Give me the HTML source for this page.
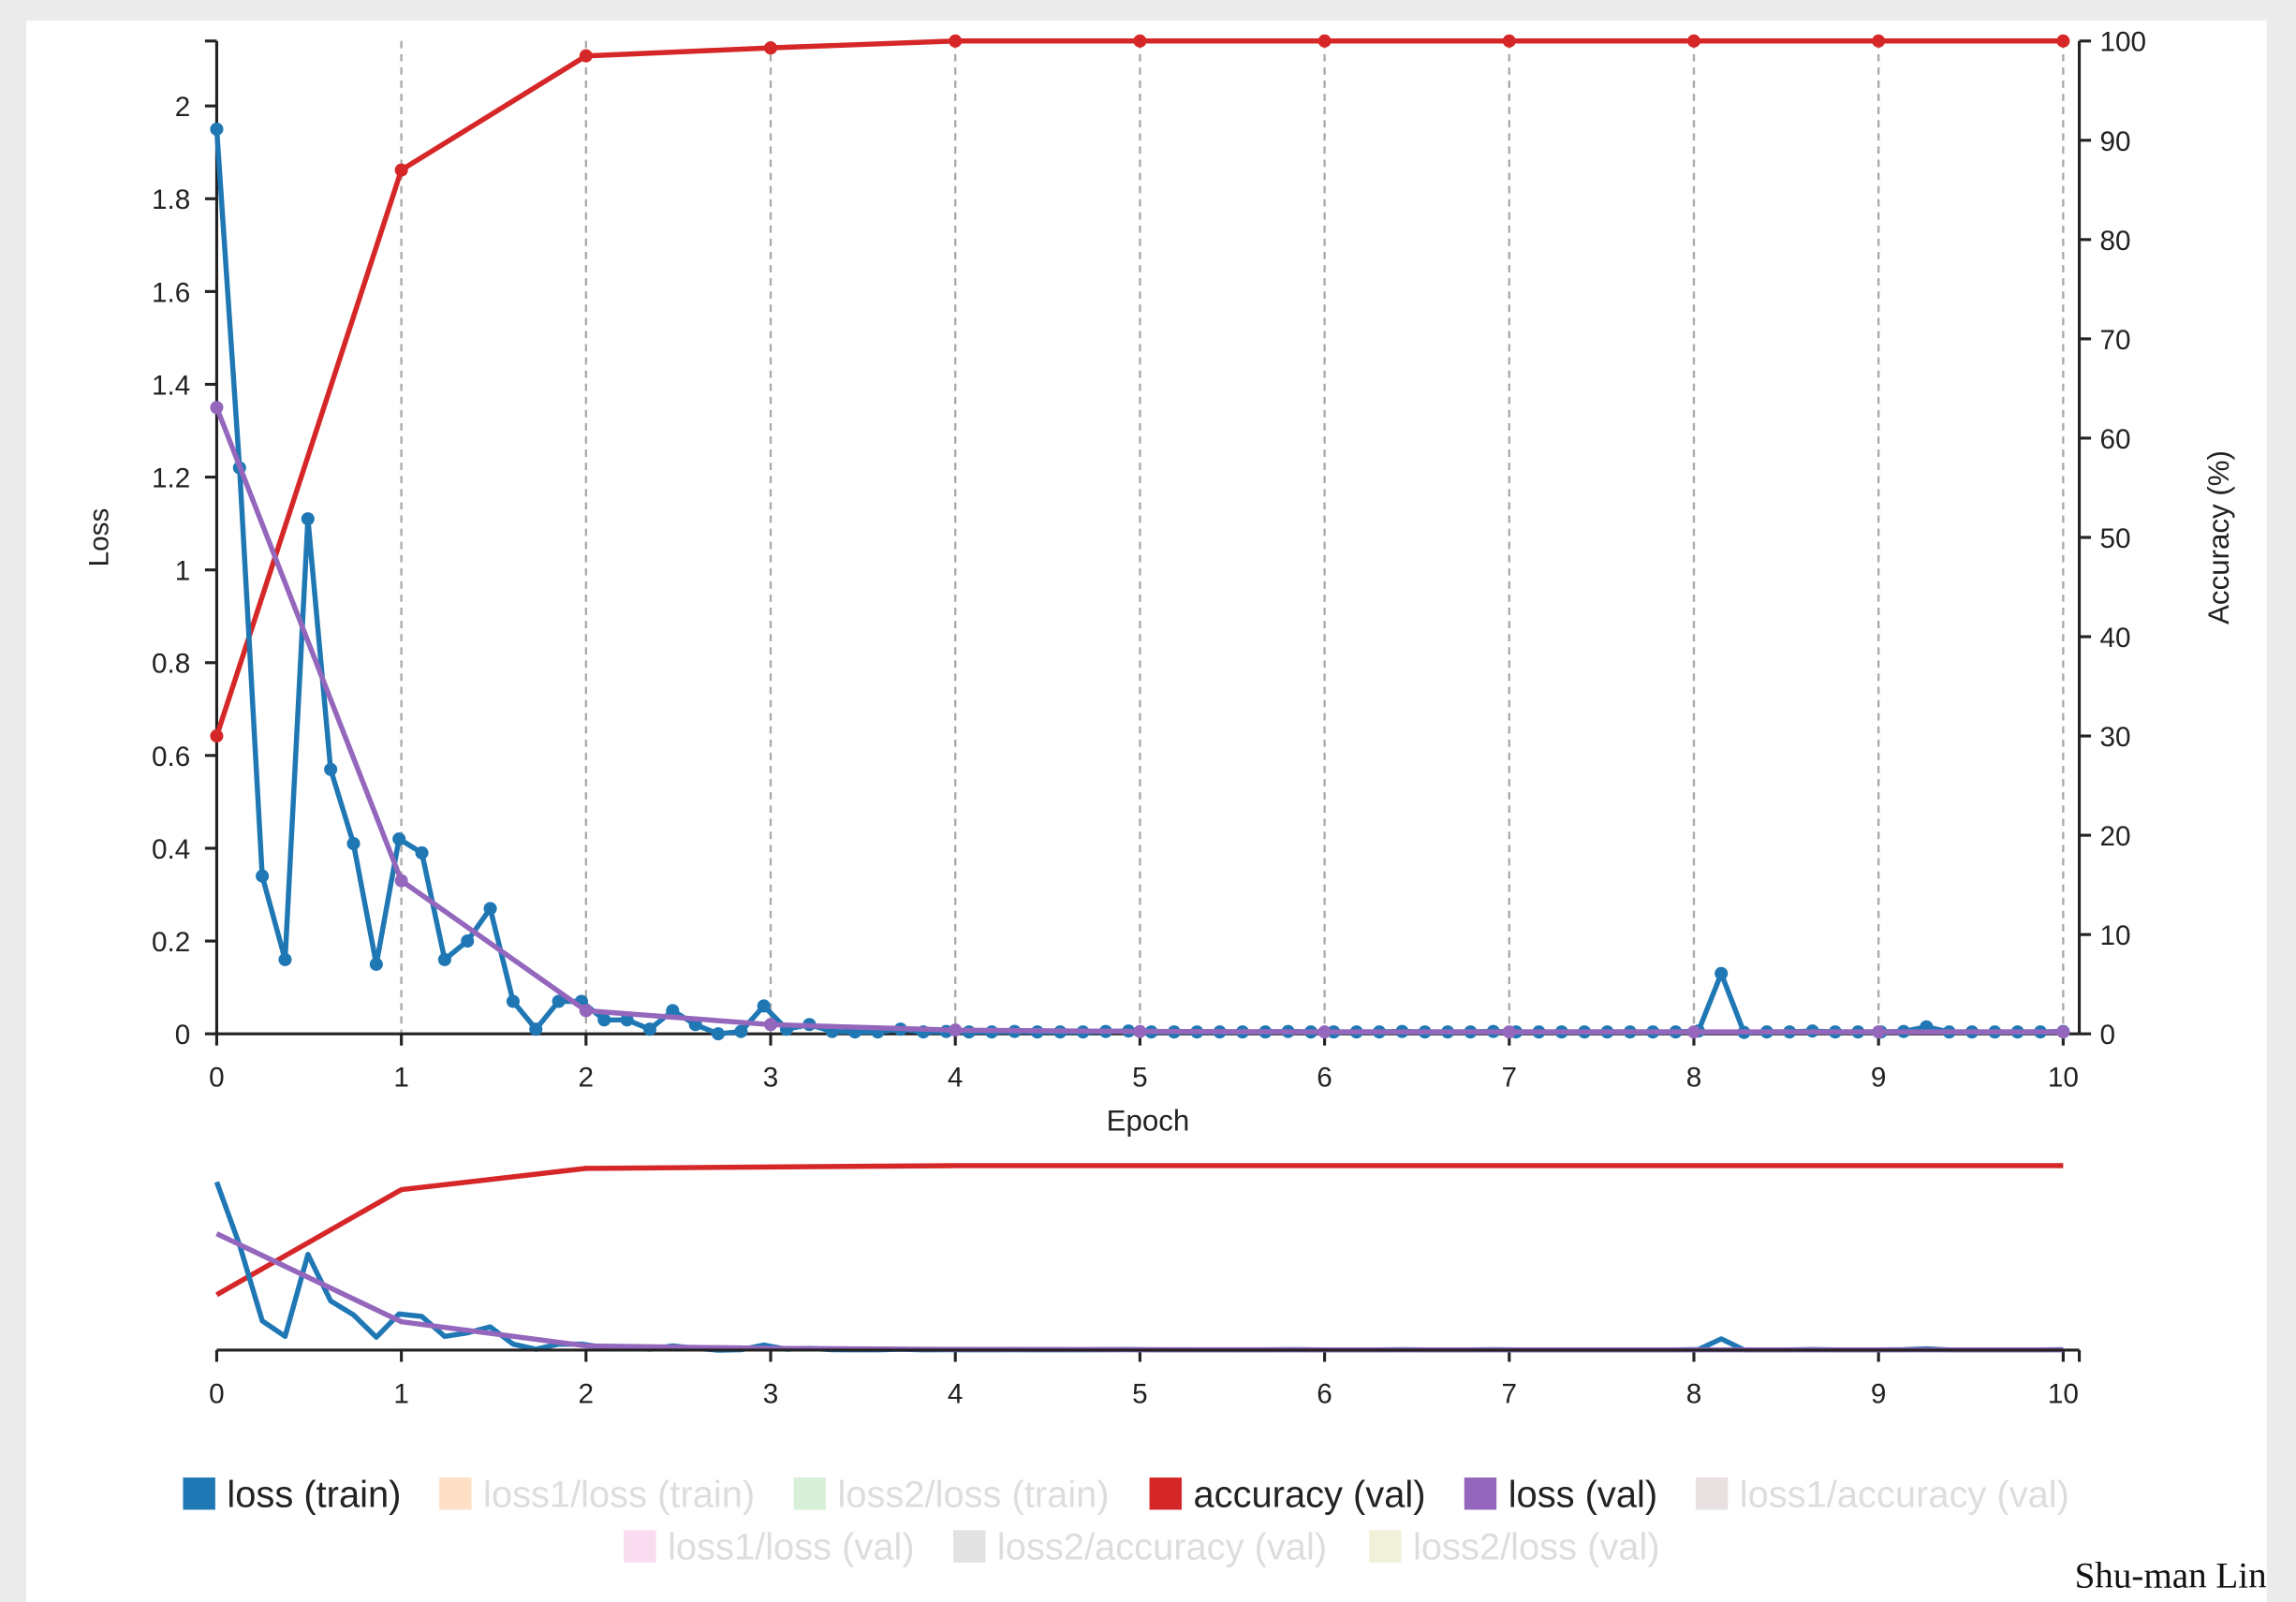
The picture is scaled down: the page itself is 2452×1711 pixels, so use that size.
<!DOCTYPE html>
<html><head><meta charset="utf-8">
<style>
html,body{margin:0;padding:0;background:#ebebeb;}
svg{display:block;font-family:"Liberation Sans",sans-serif;}
</style></head>
<body>
<svg id="chart" width="2452" height="1711" viewBox="0 0 1568 1094" preserveAspectRatio="none" xmlns="http://www.w3.org/2000/svg">
<rect x="0" y="0" width="1568" height="1094" fill="#ebebeb"/>
<rect x="18" y="14" width="1530" height="1080" fill="#ffffff"/>
<g id="main"></g>
<g id="mini"></g>
<g id="legend"></g>
<text x="1548" y="1084" text-anchor="end" font-family="Liberation Serif, serif" font-size="25" fill="#111">Shu-man Lin</text>
</svg>
<script>
const epochs = [0,1,2,3,4,5,6,7,8,9,10];
const trainLoss = [1.95,1.22,0.34,0.16,1.11,0.57,0.41,0.15,0.42,0.39,0.16,0.20,0.27,0.07,0.01,0.07,0.07,0.03,0.03,0.01,0.05,0.02,0.0,0.005,0.06,0.01,0.02,0.005,0.004,0.004,0.01,0.004,0.005,0.004,0.004,0.005,0.004,0.004,0.004,0.005,0.006,0.004,0.004,0.004,0.004,0.004,0.004,0.005,0.004,0.004,0.004,0.004,0.005,0.004,0.004,0.004,0.005,0.004,0.004,0.004,0.004,0.004,0.004,0.004,0.004,0.006,0.13,0.003,0.004,0.004,0.006,0.004,0.004,0.004,0.005,0.015,0.004,0.004,0.004,0.004,0.004,0.005];
const valLoss = [1.35,0.33,0.05,0.02,0.008,0.005,0.004,0.004,0.004,0.004,0.004];
const accuracy = [30,87,98.5,99.3,100,100,100,100,100,100,100];
const lossTicks = [0,0.2,0.4,0.6,0.8,1,1.2,1.4,1.6,1.8,2];
const accTicks = [0,10,20,30,40,50,60,70,80,90,100];

const NS="http://www.w3.org/2000/svg";
function mk(tag, attrs, parent, txt){const e=document.createElementNS(NS,tag);for(const k in attrs)e.setAttribute(k,attrs[k]);if(txt!==undefined)e.textContent=txt;parent.appendChild(e);return e;}
const X0=148, X1=1409;
const xs = e => X0 + (X1-X0)*e/10;
const LOSSMAX = 2.14;
const main=document.getElementById('main'), mini=document.getElementById('mini'), leg=document.getElementById('legend');
const mT=28, mB=706;
const yL = v => mB - (mB-mT)*v/LOSSMAX;
const yA = v => mB - (mB-mT)*v/100;
const nT=796, nB=922;
const nyL = v => nB - (nB-nT)*v/LOSSMAX;
const nyA = v => nB - (nB-nT)*v/100;
const trainX = trainLoss.map((v,i)=> i*10/(trainLoss.length-1));

epochs.slice(1).forEach(e=>{
  const g=mk('line',{x1:xs(e),x2:xs(e),y1:mT,y2:mB,stroke:'#aaa','stroke-width':1.5,'stroke-dasharray':'5,4'},main);
  
  
});
let a=mk('line',{x1:X0,x2:X0,y1:mT,y2:mB,stroke:'#222','stroke-width':2},main);

a=mk('line',{x1:X0,x2:1420,y1:mB,y2:mB,stroke:'#222','stroke-width':2},main);

a=mk('line',{x1:1420,x2:1420,y1:mT,y2:mB,stroke:'#222','stroke-width':2},main);

mk('line',{x1:140,x2:X0,y1:mT,y2:mT,stroke:'#222','stroke-width':2},main);
lossTicks.forEach(t=>{
  mk('line',{x1:140,x2:X0,y1:yL(t),y2:yL(t),stroke:'#222','stroke-width':2},main);
  const l=mk('text',{x:130,y:yL(t)+7,'text-anchor':'end','font-size':19,fill:'#222'},main,String(t));
  
});
accTicks.forEach(t=>{
  mk('line',{x1:1420,x2:1428,y1:yA(t),y2:yA(t),stroke:'#222','stroke-width':2},main);
  const l=mk('text',{x:1434,y:yA(t)+7,'font-size':19,fill:'#222'},main,String(t));
  
});
epochs.forEach(e=>{
  mk('line',{x1:xs(e),x2:xs(e),y1:mB,y2:mB+8,stroke:'#222','stroke-width':2},main);
  const l=mk('text',{x:xs(e),y:742,'text-anchor':'middle','font-size':19,fill:'#222'},main,String(e));
  
  mk('line',{x1:xs(e),x2:xs(e),y1:nB,y2:nB+8,stroke:'#222','stroke-width':2},mini);
  const m=mk('text',{x:xs(e),y:958,'text-anchor':'middle','font-size':19,fill:'#222'},mini,String(e));
  
});
mk('line',{x1:1420,x2:1420,y1:nB,y2:nB+8,stroke:'#222','stroke-width':2},mini);
let t=mk('text',{x:784,y:772,'text-anchor':'middle','font-size':20,fill:'#222'},main,'Epoch');

t=mk('text',{x:0,y:0,transform:'translate(74,367) rotate(-90)','text-anchor':'middle','font-size':19,fill:'#222'},main,'Loss');

t=mk('text',{x:0,y:0,transform:'translate(1522,367) rotate(-90)','text-anchor':'middle','font-size':20,fill:'#222'},main,'Accuracy (%)');


function series(xv, yv, xf, yf, color, parent, name, dots){
  const pts=yv.map((v,i)=>xf(xv[i]).toFixed(1)+','+yf(v).toFixed(1)).join(' ');
  const p=mk('polyline',{points:pts,fill:'none',stroke:color,'stroke-width':3.5,'stroke-linejoin':'round'},parent);
  
  
  if(dots) yv.forEach((v,i)=>{
    const c=mk('circle',{cx:xf(xv[i]),cy:yf(v),r:4.5,fill:color},parent);
    
    
  });
}
series(epochs,accuracy,xs,yA,'#d62728',main,'accuracy-val-line',true);
series(trainX,trainLoss,xs,yL,'#1f77b4',main,'loss-train-line',true);
series(epochs,valLoss,xs,yL,'#9467bd',main,'loss-val-line',true);

series(epochs,accuracy,xs,nyA,'#d62728',mini,'mini-accuracy-line',false);
series(trainX,trainLoss,xs,nyL,'#1f77b4',mini,'mini-loss-train-line',false);
series(epochs,valLoss,xs,nyL,'#9467bd',mini,'mini-loss-val-line',false);
a=mk('line',{x1:X0,x2:1420,y1:nB,y2:nB,stroke:'#222','stroke-width':2},mini);


const legendItems=[
 ['loss (train)','#1f77b4','#222',125,1020],
 ['loss1/loss (train)','#fde0c6','#ddd',300,1020],
 ['loss2/loss (train)','#d8efd8','#ddd',542,1020],
 ['accuracy (val)','#d62728','#222',785,1020],
 ['loss (val)','#9467bd','#222',1000,1020],
 ['loss1/accuracy (val)','#e9e1e1','#ddd',1158,1020],
 ['loss1/loss (val)','#f9dcef','#ddd',426,1056],
 ['loss2/accuracy (val)','#e2e2e2','#ddd',651,1056],
 ['loss2/loss (val)','#f1f1d9','#ddd',935,1056]];
legendItems.forEach(it=>{
  const g=mk('g',{},leg);
  
  
  mk('rect',{x:it[3],y:it[4]-11,width:22,height:22,fill:it[1]},g);
  mk('text',{x:it[3]+30,y:it[4]+9,'font-size':25.5,fill:it[2]},g,it[0]);
});
</script>
</body></html>
